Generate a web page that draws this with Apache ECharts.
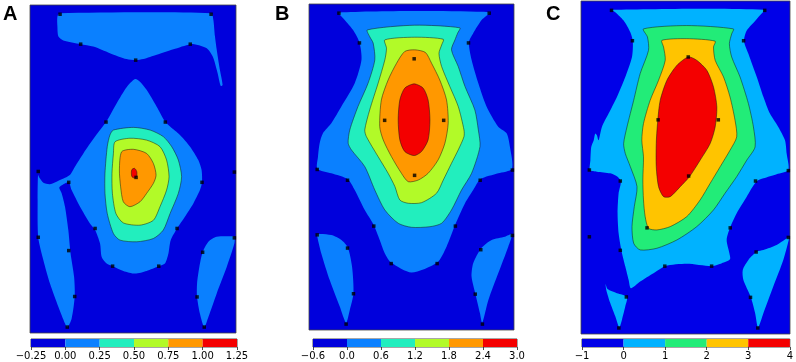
<!DOCTYPE html>
<html lang="en">
<head>
    <meta charset="UTF-8">
    <title>Contour maps A B C</title>
    <script src="https://cdn.jsdelivr.net/npm/echarts@6/dist/echarts.min.js"></script>
    <style type="text/css">
        html, body { margin: 0; padding: 0; background: #fff; }
        #main { width: 796px; height: 362px; }
    </style>
</head>
<body>
<div id="main"></div>
<script type="text/javascript">
    // sensor positions (map units: x 0-100, y 0-160, shared by the three maps)
    var sensorPos = [[14.6,155.5],[87.9,155.5],[24.6,140.9],[77.8,140.9],[51.3,133.1],[36.9,102.9],[65.7,102.9],
        [4.0,78.8],[99.2,78.5],[18.8,73.5],[83.5,73.5],[51.5,75.9],[31.6,51.0],[71.4,51.0],[4.0,46.7],[99.2,46.4],
        [18.8,40.2],[83.8,39.4],[40.1,32.6],[62.5,32.6],[21.7,17.8],[81.1,17.6],[18.1,2.9],[84.6,2.9]];

    // colour bar levels and colours
    var aLevels = [-0.25, 0, 0.25, 0.5, 0.75, 1.0, 1.25];
    var bLevels = [-0.6, 0, 0.6, 1.2, 1.8, 2.4, 3.0];
    var cLevels = [-1, 0, 1, 2, 3, 4];
    var abColors = ['#0000dc', '#0a80ff', '#22eebe', '#b2fa28', '#ff9800', '#f40000'];
    var cColors = ['#0000e8', '#00b2ff', '#22ec78', '#ffc400', '#f40000'];

    // ---- map A contour regions ----
    var aTopBand = [[14.6,156.0],[87.9,156.0],[89.0,152.8],[89.8,144.6],[90.9,136.5],[92.2,128.3],[93.5,121.0],[92.6,120.5],
        [90.9,127.5],[88.7,134.9],[85.8,138.9],[80.9,140.6],[77.8,140.9],[69.6,138.4],[61.5,135.7],[55.0,133.6],[51.3,133.1],
        [46.9,133.6],[38.8,136.5],[30.7,139.7],[24.6,140.9],[16.2,142.7],[13.8,144.6],[13.3,149.5],[13.3,154.4]];
    var aCentre = [[51.0,123.9],[46.9,119.9],[42.1,112.1],[36.9,102.9],[31.6,95.8],[25.9,87.6],[21.8,81.1],[19.7,77.5],
        [17.0,75.7],[13.8,74.3],[9.7,72.6],[6.5,73.3],[4.5,75.9],[3.9,77.0],[3.7,64.8],[4.0,46.7],[6.5,35.5],[9.7,24.1],
        [13.8,12.7],[17.0,4.6],[18.1,2.6],[20.2,7.0],[21.7,17.8],[21.4,27.4],[19.7,38.8],[18.6,50.2],[17.0,61.6],[15.4,68.1],
        [14.2,71.0],[16.2,72.6],[18.8,73.5],[20.2,69.7],[24.3,61.6],[29.1,53.4],[31.6,50.2],[34.0,43.6],[34.8,37.1],[37.2,33.9],
        [40.1,32.6],[45.3,30.3],[51.0,29.0],[56.6,30.3],[62.5,32.6],[65.5,33.9],[67.2,38.8],[68.3,45.3],[71.4,51.0],[75.2,56.7],
        [79.3,63.2],[82.5,69.7],[83.5,73.5],[83.3,79.5],[81.7,84.4],[77.7,90.9],[72.8,96.6],[68.0,100.7],[65.7,102.9],
        [61.5,110.4],[56.6,118.6],[53.4,122.6]];
    var aRightFoot = [[99.2,46.9],[97.1,47.2],[90.6,46.9],[86.6,44.5],[83.8,39.4],[82.2,32.2],[81.1,24.1],[81.1,17.6],
        [82.5,9.4],[84.6,2.9],[86.6,7.8],[90.6,19.2],[95.5,32.2],[99.2,43.6]];
    var aLevel2 = [[40.5,99.0],[50.2,100.3],[58.3,99.0],[64.7,95.8],[68.8,90.9],[72.0,84.4],[73.6,76.2],[72.0,68.1],
        [68.0,58.3],[64.7,50.2],[59.9,46.1],[51.8,44.5],[43.7,45.3],[40.5,48.5],[37.5,58.3],[36.4,68.1],[36.4,77.9],
        [37.5,90.9],[38.8,96.6]];
    var aLevel3 = [[41.3,93.3],[48.5,95.0],[56.6,94.1],[63.1,90.9],[66.3,84.4],[67.5,76.2],[66.3,69.7],[63.1,61.6],
        [59.9,55.0],[53.4,52.6],[45.3,53.7],[41.7,58.3],[40.0,68.1],[39.8,77.9],[40.5,87.6]];
    var aLevel4 = [[44.5,88.4],[50.2,89.6],[56.6,87.6],[59.9,82.7],[61.2,77.0],[59.9,73.0],[56.6,68.1],[53.4,64.0],
        [48.5,61.6],[45.3,64.0],[44.0,71.3],[43.4,79.5]];
    var aPeak = [[49.5,79.8],[50.8,80.3],[51.8,78.8],[51.8,76.5],[50.8,75.6],[49.5,76.2],[49.2,78.2]];

    // ---- map B contour regions ----
    var bMain = [[14.7,155.8],[88.1,156.0],[84.2,152.2],[80.1,145.7],[78.0,141.2],[79.3,132.6],[82.6,121.1],[86.6,109.7],
        [92.3,99.8],[96.4,96.6],[98.0,90.0],[99.0,79.2],[92.3,76.9],[83.6,74.0],[80.1,68.7],[76.1,62.2],[71.3,51.6],
        [67.1,40.9],[62.5,33.1],[50.0,28.2],[40.1,33.1],[37.0,37.6],[34.5,44.2],[31.4,51.9],[27.2,58.9],[22.3,68.7],
        [18.9,74.0],[10.9,76.9],[4.1,79.2],[4.4,85.1],[5.2,91.7],[6.8,96.6],[10.9,101.5],[15.8,109.7],[22.3,121.1],
        [25.6,132.6],[24.6,141.2],[21.5,147.3],[17.4,152.2]];
    var bLeftFoot = [[4.1,47.1],[10.9,46.6],[15.8,44.2],[18.9,40.6],[21.0,31.1],[21.7,18.0],[19.9,9.8],[18.1,3.6],
        [15.0,11.5],[10.1,24.5],[6.0,37.6],[4.1,45.5]];
    var bRightFoot = [[99.0,47.0],[95.6,45.8],[89.1,44.2],[84.0,40.1],[80.1,32.7],[79.3,26.2],[81.1,18.0],[83.4,8.2],
        [84.5,3.6],[87.5,14.7],[92.3,27.8],[97.2,40.9]];
    var bLevel2 = [[28.5,147.3],[51.6,149.6],[73.6,148.3],[72.5,145.7],[71.2,142.4],[69.5,137.5],[72.8,129.3],[76.1,119.5],
        [80.9,108.0],[82.6,98.2],[83.4,90.0],[79.3,76.9],[74.4,68.7],[69.5,58.9],[64.7,52.4],[59.0,50.7],[50.0,50.4],
        [43.5,52.4],[37.0,58.9],[32.1,68.7],[27.2,80.2],[20.7,88.4],[19.1,91.7],[19.9,98.2],[23.9,109.7],[28.8,121.1],
        [32.1,132.6],[31.3,140.8],[29.6,144.0]];
    var bLevel3 = [[37.0,142.4],[51.6,143.7],[65.5,142.7],[64.7,139.9],[63.4,135.8],[64.7,129.3],[68.7,119.5],[72.8,109.7],
        [75.6,98.2],[75.6,94.9],[72.8,88.4],[69.5,81.8],[65.5,73.6],[62.2,67.1],[54.9,62.5],[48.4,62.2],[44.3,63.8],
        [41.9,70.4],[38.6,76.9],[33.7,85.1],[28.0,94.9],[27.2,98.2],[29.6,108.0],[33.7,121.1],[37.0,132.6],[37.8,138.3]];
    var bLevel4 = [[46.7,136.7],[51.6,137.5],[56.8,136.2],[59.8,130.9],[63.8,122.7],[67.1,112.9],[67.9,101.5],[66.3,91.7],
        [63.0,83.5],[58.1,76.9],[53.3,73.6],[48.4,72.8],[45.1,76.9],[40.2,85.1],[36.2,93.3],[34.5,99.8],[35.3,112.9],
        [38.6,122.7],[42.7,130.9]];
    var bPeak = [[51.3,120.8],[55.7,118.7],[58.1,112.9],[59.0,103.1],[58.1,93.3],[54.9,87.6],[51.3,85.6],[46.7,87.6],
        [44.3,93.3],[43.5,103.1],[44.3,112.9],[46.7,118.7]];

    // ---- map C contour regions ----
    var cMain = [[14.8,155.8],[87.3,155.8],[84.1,151.4],[79.3,145.8],[78.0,140.7],[80.1,134.7],[84.1,123.5],[87.3,113.9],
        [90.4,105.9],[94.4,99.5],[97.6,93.1],[98.4,86.7],[99.2,78.8],[93.6,76.8],[87.3,74.8],[83.9,73.3],[79.3,66.0],
        [74.5,58.0],[71.3,51.0],[69.7,45.2],[71.0,38.8],[71.3,35.9],[67.4,34.0],[62.6,32.6],[50.6,33.7],[40.3,32.6],
        [34.7,29.2],[28.3,25.2],[23.9,22.0],[22.8,26.0],[21.2,32.4],[19.3,40.3],[18.0,48.4],[17.5,58.0],[18.0,67.6],
        [19.1,73.3],[17.5,75.6],[14.0,77.2],[7.6,78.0],[4.3,78.8],[4.5,83.5],[4.9,89.9],[6.1,93.1],[6.8,96.3],[7.6,95.5],
        [8.4,93.1],[10.0,99.5],[13.2,105.9],[17.2,113.9],[21.2,123.5],[24.4,133.1],[24.8,140.7],[23.6,145.0],[20.4,150.6],
        [16.4,154.6]];
    var cLeftFoot = [[11.8,24.0],[12.7,21.6],[17.2,19.6],[22.0,17.9],[21.2,13.3],[19.6,6.9],[18.3,3.2],[16.4,8.5],
        [14.0,14.9],[12.1,21.2]];
    var cRightFoot = [[99.4,46.5],[93.6,42.8],[87.3,40.4],[84.2,39.6],[80.1,35.6],[77.4,30.8],[77.7,26.0],[81.2,17.9],
        [83.3,10.1],[84.7,3.2],[87.3,10.1],[92.0,22.8],[96.8,35.6],[99.4,45.2]];
    var cLevel2 = [[29.9,146.6],[50.6,148.2],[72.9,146.6],[72.1,144.2],[71.0,139.5],[72.1,133.1],[76.1,123.5],[80.1,110.7],
        [82.5,99.5],[83.3,89.9],[79.3,83.5],[74.5,75.6],[68.9,67.6],[63.4,59.6],[55.4,51.6],[45.9,45.2],[36.3,41.2],
        [28.3,40.4],[25.2,43.6],[24.4,51.6],[25.5,61.2],[26.8,70.8],[23.6,80.4],[21.2,86.7],[20.4,91.5],[22.0,99.5],
        [25.2,112.3],[28.3,125.1],[32.3,136.3],[31.8,142.7]];
    var cLevel3 = [[38.7,141.1],[50.6,141.9],[64.2,140.7],[63.4,137.9],[64.2,131.5],[68.2,123.5],[71.3,113.9],[73.7,102.7],
        [74.5,94.7],[71.3,88.3],[66.6,80.4],[61.8,72.4],[57.0,64.4],[50.6,56.4],[42.7,51.6],[36.3,50.0],[32.3,50.8],
        [30.7,56.4],[29.9,64.4],[29.6,74.0],[29.9,85.1],[29.1,93.1],[29.9,101.1],[33.1,112.3],[37.1,121.9],[40.3,131.5],
        [39.5,137.9]];
    var cPeak = [[51.4,133.1],[55.4,131.5],[60.2,126.7],[63.4,118.7],[65.0,109.1],[64.2,99.5],[61.8,91.5],[57.0,83.5],
        [51.9,75.6],[47.5,70.8],[42.7,66.0],[39.5,66.0],[37.1,70.8],[36.0,80.4],[36.0,91.5],[36.6,101.1],[37.9,112.3],
        [41.1,121.9],[45.9,129.1]];

    // draw order: lowest level first
    var mapA = [
        { pts: aTopBand, lv: 1 }, { pts: aCentre, lv: 1 }, { pts: aRightFoot, lv: 1 },
        { pts: aLevel2, lv: 2 }, { pts: aLevel3, lv: 3 }, { pts: aLevel4, lv: 4 }, { pts: aPeak, lv: 5 }
    ];
    var mapB = [
        { pts: bMain, lv: 1 }, { pts: bLeftFoot, lv: 1 }, { pts: bRightFoot, lv: 1 },
        { pts: bLevel2, lv: 2 }, { pts: bLevel3, lv: 3 }, { pts: bLevel4, lv: 4 }, { pts: bPeak, lv: 5 }
    ];
    var mapC = [
        { pts: cMain, lv: 1 }, { pts: cLeftFoot, lv: 1 }, { pts: cRightFoot, lv: 1 },
        { pts: cLevel2, lv: 2 }, { pts: cLevel3, lv: 3 }, { pts: cPeak, lv: 4 }
    ];

    var panels = [
        { map: mapA, colors: abColors, levels: aLevels, digits: 2, label: 'A',
          grid: { left: 30, top: 5, width: 206, height: 328 }, bar: { left: 31, top: 339, width: 206, height: 8 }, labelX: 3 },
        { map: mapB, colors: abColors, levels: bLevels, digits: 1, label: 'B',
          grid: { left: 309, top: 4, width: 205, height: 326 }, bar: { left: 313, top: 339, width: 204, height: 8 }, labelX: 275 },
        { map: mapC, colors: cColors, levels: cLevels, digits: 0, label: 'C',
          grid: { left: 581, top: 1, width: 209, height: 333 }, bar: { left: 582, top: 339, width: 209, height: 8 }, labelX: 546 }
    ];

    function contourRender(panel) {
        return function (params, api) {
            var region = panel.map[params.dataIndex];
            var pts = region.pts.map(function (p) { return api.coord(p); });
            return {
                type: 'polygon',
                shape: { points: pts, smooth: 0.25 },
                style: {
                    fill: panel.colors[region.lv],
                    stroke: region.lv > 1 ? 'rgba(20,20,20,0.7)' : null,
                    lineWidth: 0.7
                }
            };
        };
    }

    function barRender(panel) {
        return function (params, api) {
            var p0 = api.coord([api.value(0), 1]);
            var p1 = api.coord([api.value(1), 0]);
            return {
                type: 'rect',
                shape: { x: p0[0], y: p0[1], width: p1[0] - p0[0], height: p1[1] - p0[1] },
                style: { fill: panel.colors[api.value(2)] }
            };
        };
    }

    var grids = [], xAxes = [], yAxes = [], series = [], titles = [];
    panels.forEach(function (panel, i) {
        var g = i * 2;
        grids.push(Object.assign({ show: true, backgroundColor: panel.colors[0], borderColor: '#444', borderWidth: 0.8 }, panel.grid));
        grids.push(Object.assign({ show: true, borderColor: '#222', borderWidth: 0.8 }, panel.bar));
        xAxes.push({ gridIndex: g, type: 'value', min: 0, max: 100, show: false });
        yAxes.push({ gridIndex: g, type: 'value', min: 0, max: 160, show: false });
        var lv = panel.levels;
        xAxes.push({
            gridIndex: g + 1, type: 'value', min: lv[0], max: lv[lv.length - 1], interval: lv[1] - lv[0],
            splitLine: { show: false }, axisLine: { show: false },
            axisTick: { show: true, length: 3, lineStyle: { color: '#222', width: 0.8 } },
            axisLabel: {
                color: '#000', fontSize: 10, fontFamily: 'DejaVu Sans', margin: 4, hideOverlap: false,
                showMinLabel: true, showMaxLabel: true,
                formatter: function (v) {
                    if (Math.abs(v) < 1e-9) v = 0;
                    return v.toFixed(panel.digits).replace('-', '\u2212');
                }
            }
        });
        yAxes.push({ gridIndex: g + 1, type: 'value', min: 0, max: 1, show: false });

        series.push({
            type: 'custom', xAxisIndex: g, yAxisIndex: g, silent: true,
            renderItem: contourRender(panel),
            data: panel.map.map(function (r) { return r.pts[0]; })
        });
        series.push({
            type: 'scatter', xAxisIndex: g, yAxisIndex: g, silent: true,
            symbol: 'rect', symbolSize: 3.5, itemStyle: { color: '#000' },
            data: sensorPos
        });
        var segs = [];
        for (var k = 0; k < lv.length - 1; k++) segs.push([lv[k], lv[k + 1], k]);
        series.push({
            type: 'custom', xAxisIndex: g + 1, yAxisIndex: g + 1, silent: true,
            renderItem: barRender(panel),
            data: segs
        });
        titles.push({
            text: panel.label, left: panel.labelX, top: 4, padding: 0,
            textStyle: { fontSize: 20, fontWeight: 'bold', color: '#000', fontFamily: 'Liberation Sans' }
        });
    });

    var myChart = echarts.init(document.getElementById('main'), null, { renderer: 'canvas' });
    myChart.setOption({
        animation: false,
        title: titles,
        grid: grids,
        xAxis: xAxes,
        yAxis: yAxes,
        series: series
    });
</script>
</body>
</html>
